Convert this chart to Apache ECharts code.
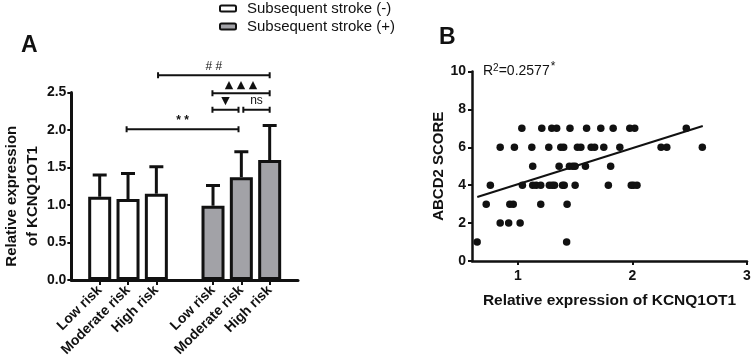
<!DOCTYPE html>
<html>
<head>
<meta charset="utf-8">
<script src="https://cdn.jsdelivr.net/npm/echarts@6/dist/echarts.min.js"></script>
<style>
  html, body { margin: 0; padding: 0; background: #fff; }
  #main { width: 754px; height: 364px; }
</style>
</head>
<body>
<div id="main"></div>
<script>
// panel A - KCNQ1OT1 by risk group
var riskGroups = ["Low risk", "Moderate risk", "High risk"];
var negPos = [1, 2, 3];
var posPos = [5, 6, 7];
var negMean = [1.11, 1.08, 1.15];
var negUpper = [1.4, 1.42, 1.51];
var posMean = [0.99, 1.37, 1.6];
var posUpper = [1.26, 1.71, 2.06];
// from, to, height, mark
var brackets = [
  [1.95, 5.9, 2.01, "* *"],
  [4.98, 5.9, 2.27, "▼"],
  [6.07, 7.0, 2.27, "ns"],
  [4.98, 7.0, 2.49, "▲ ▲ ▲"],
  [3.06, 7.0, 2.73, "# #"]
];

// panel B - ABCD2 score vs expression
var exprVals = [
  1.035, 1.209, 1.296, 1.339, 1.455, 1.6, 1.724, 1.832, 1.977, 2.02, 2.47,
  0.846, 0.97, 1.122, 1.27, 1.375, 1.4, 1.52, 1.55, 1.64, 1.67, 1.75, 1.89, 2.25, 2.3, 2.61,
  1.13, 1.36, 1.45, 1.48, 1.5, 1.59, 1.81,
  0.76, 1.04, 1.13, 1.16, 1.2, 1.275, 1.3, 1.32, 1.39, 1.405, 1.5, 1.79, 1.99, 2.01, 2.04,
  0.724, 0.93, 0.96, 1.2, 1.43,
  0.846, 0.92, 1.02,
  0.645, 1.426
];
var scoreVals = [
  7, 7, 7, 7, 7, 7, 7, 7, 7, 7, 7,
  6, 6, 6, 6, 6, 6, 6, 6, 6, 6, 6, 6, 6, 6, 6,
  5, 5, 5, 5, 5, 5, 5,
  4, 4, 4, 4, 4, 4, 4, 4, 4, 4, 4, 4, 4, 4, 4,
  3, 3, 3, 3, 3,
  2, 2, 2,
  1, 1
];
var fitX = [0.646, 2.614];
var fitY = [3.38, 7.12];

var FONT = '"Liberation Sans", Arial, sans-serif';
var INK = "#111";

function zip(a, b) {
  return a.map(function (v, i) { return [v, b[i]]; });
}

function renderErr(params, api) {
  var base = api.coord([api.value(0), api.value(1)]);
  var top = api.coord([api.value(0), api.value(2)]);
  var st = { stroke: INK, lineWidth: 3 };
  return {
    type: "group",
    children: [
      { type: "line", shape: { x1: base[0], y1: base[1], x2: top[0], y2: top[1] }, style: st },
      { type: "line", shape: { x1: top[0] - 7, y1: top[1], x2: top[0] + 7, y2: top[1] }, style: st }
    ]
  };
}

function renderBracket(params, api) {
  var p1 = api.coord([api.value(0), api.value(2)]);
  var p2 = api.coord([api.value(1), api.value(2)]);
  var mark = brackets[params.dataIndex][3];
  var small = /[▲▼]/.test(mark);
  var st = { stroke: INK, lineWidth: 2 };
  return {
    type: "group",
    children: [
      { type: "line", shape: { x1: p1[0], y1: p1[1], x2: p2[0], y2: p2[1] }, style: st },
      { type: "line", shape: { x1: p1[0], y1: p1[1] - 3, x2: p1[0], y2: p1[1] + 3 }, style: st },
      { type: "line", shape: { x1: p2[0], y1: p2[1] - 3, x2: p2[0], y2: p2[1] + 3 }, style: st },
      {
        type: "text",
        x: (p1[0] + p2[0]) / 2,
        y: p1[1] - 3,
        style: {
          text: mark,
          align: "center",
          verticalAlign: "bottom",
          fontSize: small ? 11 : 12,
          fontWeight: mark === "* *" ? "bold" : "normal",
          fontFamily: small ? "DejaVu Sans" : FONT,
          fill: INK
        }
      }
    ]
  };
}

var axisLbl = { color: INK, fontSize: 14, fontWeight: "bold", fontFamily: FONT };
var nameStyle = { color: INK, fontSize: 15, fontWeight: "bold", fontFamily: FONT };

var myChart = echarts.init(document.getElementById("main"));
var option = {
  animation: false,
  textStyle: { fontFamily: FONT },
  legend: {
    orient: "vertical",
    left: 214,
    top: -4,
    itemWidth: 16,
    itemHeight: 6,
    itemGap: 3,
    data: ["Subsequent stroke (-)", "Subsequent stroke (+)"],
    textStyle: { color: INK, fontSize: 15, fontFamily: FONT, padding: [0, 0, 0, 6] }
  },
  graphic: [
    { type: "text", left: 21, top: 34, style: { text: "A", fontSize: 23, fontWeight: "bold", fontFamily: FONT, fill: INK } },
    { type: "text", left: 439, top: 26, style: { text: "B", fontSize: 23, fontWeight: "bold", fontFamily: FONT, fill: INK } },
    {
      type: "text",
      left: 483,
      top: 61,
      style: {
        text: "{a|R}{s|2}{a|=0.2577}{t|*}",
        fill: INK,
        rich: {
          a: { fontSize: 14, fontFamily: FONT, fill: INK },
          s: { fontSize: 10, fontFamily: FONT, fill: INK, padding: [0, 0, 6, 0] },
          t: { fontSize: 12, fontFamily: FONT, fill: INK, padding: [0, 0, 8, 1] }
        }
      }
    }
  ],
  grid: [
    { left: 68, right: 456, top: 92.5, bottom: 84 },
    { left: 472, right: 7, top: 71.5, bottom: 103 }
  ],
  xAxis: [
    {
      gridIndex: 0,
      type: "value",
      min: 0,
      max: 8,
      splitLine: { show: false },
      axisLine: { lineStyle: { color: INK, width: 3 } },
      axisTick: { customValues: negPos.concat(posPos), length: 5, lineStyle: { color: INK, width: 2 } },
      axisLabel: Object.assign({}, axisLbl, {
        customValues: negPos.concat(posPos),
        rotate: 45,
        margin: 8,
        formatter: function (v) {
          var i = negPos.indexOf(v);
          if (i < 0) i = posPos.indexOf(v);
          return riskGroups[i];
        }
      })
    },
    {
      gridIndex: 1,
      type: "value",
      min: 0.6,
      max: 3,
      splitLine: { show: false },
      axisLine: { lineStyle: { color: INK, width: 2.5 } },
      axisTick: { customValues: [1, 2, 3], length: 4, lineStyle: { color: INK, width: 2 } },
      axisLabel: Object.assign({}, axisLbl, { customValues: [1, 2, 3], margin: 8 }),
      name: "Relative expression of KCNQ1OT1",
      nameLocation: "middle",
      nameGap: 32,
      nameTextStyle: Object.assign({}, nameStyle, { fontSize: 15.5 })
    }
  ],
  yAxis: [
    {
      gridIndex: 0,
      type: "value",
      min: 0,
      max: 2.5,
      interval: 0.5,
      splitLine: { show: false },
      axisLine: { show: true, lineStyle: { color: INK, width: 3 } },
      axisTick: { show: true, length: 4, lineStyle: { color: INK, width: 2 } },
      axisLabel: Object.assign({}, axisLbl, {
        margin: 5,
        formatter: function (v) { return v.toFixed(1); }
      }),
      name: "Relative expression\nof KCNQ1OT1",
      nameLocation: "middle",
      nameGap: 19,
      nameTextStyle: Object.assign({}, nameStyle, { lineHeight: 21, padding: [0, 20, 0, 0] })
    },
    {
      gridIndex: 1,
      type: "value",
      min: 0,
      max: 10,
      interval: 2,
      splitLine: { show: false },
      axisLine: { show: true, lineStyle: { color: INK, width: 2.5 } },
      axisTick: { show: true, length: 4, lineStyle: { color: INK, width: 2 } },
      axisLabel: Object.assign({}, axisLbl, { margin: 6 }),
      name: "ABCD2 SCORE",
      nameLocation: "middle",
      nameGap: 24,
      nameTextStyle: nameStyle
    }
  ],
  series: [
    {
      name: "Subsequent stroke (-)",
      type: "bar",
      xAxisIndex: 0,
      yAxisIndex: 0,
      barWidth: 23,
      barGap: "-100%",
      data: zip(negPos, negMean),
      itemStyle: { color: "#ffffff", borderColor: INK, borderWidth: 3 }
    },
    {
      name: "Subsequent stroke (+)",
      type: "bar",
      xAxisIndex: 0,
      yAxisIndex: 0,
      barWidth: 23,
      barGap: "-100%",
      data: zip(posPos, posMean),
      itemStyle: { color: "#a2a2a7", borderColor: INK, borderWidth: 3 }
    },
    {
      type: "custom",
      xAxisIndex: 0,
      yAxisIndex: 0,
      renderItem: renderErr,
      encode: { x: 0, y: [1, 2] },
      data: negPos.map(function (p, i) { return [p, negMean[i], negUpper[i]]; })
        .concat(posPos.map(function (p, i) { return [p, posMean[i], posUpper[i]]; })),
      z: 3
    },
    {
      type: "custom",
      xAxisIndex: 0,
      yAxisIndex: 0,
      renderItem: renderBracket,
      encode: { x: [0, 1], y: 2 },
      data: brackets.map(function (b) { return [b[0], b[1], b[2]]; }),
      clip: false,
      z: 4
    },
    {
      type: "scatter",
      xAxisIndex: 1,
      yAxisIndex: 1,
      symbolSize: 7.5,
      itemStyle: { color: INK, opacity: 1 },
      data: zip(exprVals, scoreVals)
    },
    {
      type: "line",
      xAxisIndex: 1,
      yAxisIndex: 1,
      symbol: "none",
      lineStyle: { color: INK, width: 2 },
      data: zip(fitX, fitY),
      z: 1
    }
  ]
};
myChart.setOption(option);
window.addEventListener("resize", function () {
  myChart.resize();
});
</script>
</body>
</html>
